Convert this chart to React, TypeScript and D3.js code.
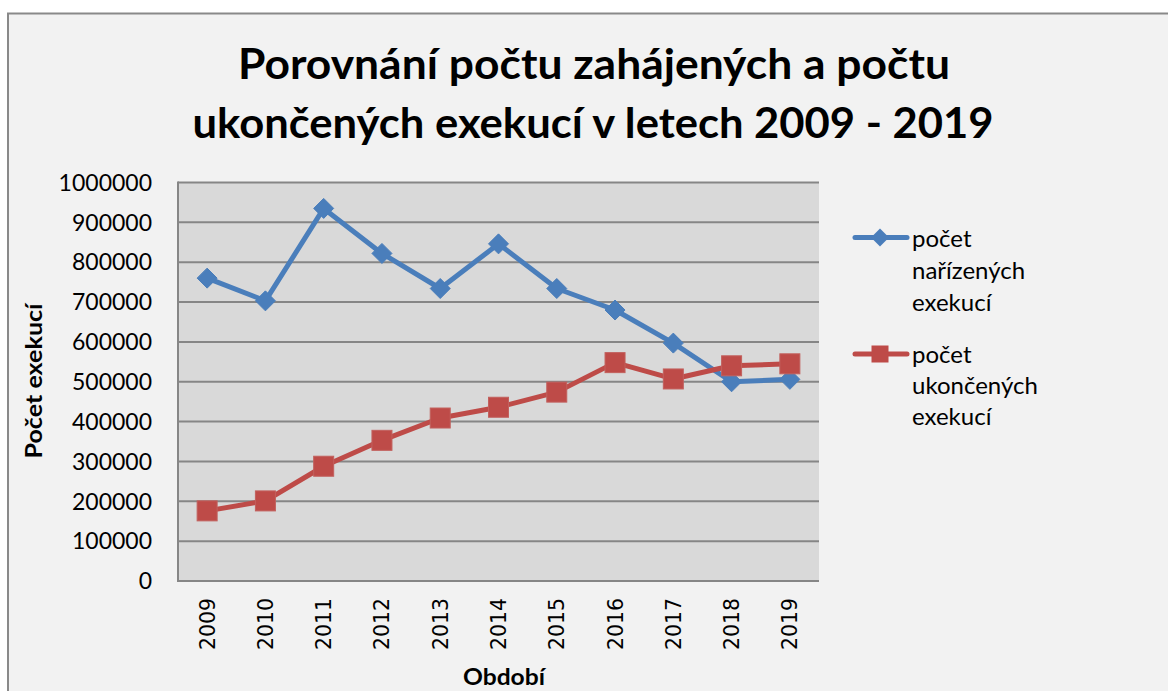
import React from "react";
import * as d3 from "d3";

const years = ["2009", "2010", "2011", "2012", "2013", "2014", "2015", "2016", "2017", "2018", "2019"];
const narizenych = [760000, 703000, 935000, 822000, 734000, 846000, 734000, 680000, 597000, 500000, 506000];
const ukoncenych = [176000, 201000, 288000, 353000, 409000, 436000, 474000, 548000, 507000, 540000, 545000];
const yTicks = [0, 100000, 200000, 300000, 400000, 500000, 600000, 700000, 800000, 900000, 1000000];
const titleLines = ["Porovnání počtu zahájených a počtu", "ukončených exekucí v letech 2009 - 2019"];
const legendNar = ["počet", "nařízených", "exekucí"];
const legendUk = ["počet", "ukončených", "exekucí"];
const yTitle = "Počet exekucí";
const xTitle = "Období";

const BLUE = "#4a7ebb";
const RED = "#be4b48";
const GRID = "#868686";

export default function App() {
  const left = 178, right = 819, top = 182.5, bottom = 581;
  const x = d3.scaleBand<string>().domain(years).range([left, right]).padding(0);
  const y = d3.scaleLinear().domain([0, 1000000]).range([bottom, top]);
  const cx = (yr: string) => (x(yr) as number) + x.bandwidth() / 2;
  const line = d3.line<number>().x((_, i) => cx(years[i])).y((v) => y(v));

  const diamond = (px: number, py: number, r: number) =>
    `M${px},${py - r}L${px + r},${py}L${px},${py + r}L${px - r},${py}Z`;

  const sans = "Lato, 'Open Sans', sans-serif";

  return (
    <svg width={1168} height={691} style={{ position: "absolute", left: 0, top: 0, background: "#ffffff" }}>
      <rect x={8} y={13.5} width={1200} height={720} fill="#f2f2f2" stroke="#898989" strokeWidth={2} />
      {/* title */}
      <text x={594} y={79} textAnchor="middle" fontFamily={sans} fontWeight="bold" fontSize={42} fill="#000" textLength={712} lengthAdjust="spacingAndGlyphs">{titleLines[0]}</text>
      <text x={593} y={138} textAnchor="middle" fontFamily={sans} fontWeight="bold" fontSize={42} fill="#000" textLength={801} lengthAdjust="spacingAndGlyphs">{titleLines[1]}</text>

      {/* plot area */}
      <rect x={left} y={top} width={right - left} height={bottom - top} fill="#d9d9d9" />
      {yTicks.map((t) => (
        <line key={t} x1={left} x2={right} y1={y(t)} y2={y(t)} stroke={GRID} strokeWidth={2} />
      ))}
      <line x1={left} x2={left} y1={top - 1} y2={bottom + 1} stroke={GRID} strokeWidth={2} />
      <line x1={left} x2={right} y1={bottom} y2={bottom} stroke={GRID} strokeWidth={2} />

      {/* y ticks */}
      {yTicks.map((t) => (
        <text key={t} x={152} y={y(t)} dy="0.36em" textAnchor="end" fontFamily={sans} fontSize={23} fill="#000">{String(t)}</text>
      ))}
      {/* x ticks */}
      {years.map((yr) => (
        <text key={yr} transform={`translate(${cx(yr) + 7.5},650) rotate(-90)`} textAnchor="start" fontFamily="'DejaVu Sans', sans-serif" fontSize={20.5} fill="#000" textLength={52} lengthAdjust="spacingAndGlyphs">{yr}</text>
      ))}

      {/* axis titles */}
      <text transform="translate(42,381) rotate(-90)" textAnchor="middle" fontFamily={sans} fontWeight="bold" fontSize={22} fill="#000" textLength={155} lengthAdjust="spacingAndGlyphs">{yTitle}</text>
      <text x={504} y={685} textAnchor="middle" fontFamily={sans} fontWeight="bold" fontSize={22} fill="#000" textLength={82} lengthAdjust="spacingAndGlyphs">{xTitle}</text>

      {/* series */}
      <path d={line(narizenych) || ""} fill="none" stroke={BLUE} strokeWidth={5} strokeLinejoin="round" />
      {narizenych.map((v, i) => (
        <path key={i} d={diamond(cx(years[i]), y(v), 10)} fill={BLUE} stroke={BLUE} strokeWidth={1} />
      ))}
      <path d={line(ukoncenych) || ""} fill="none" stroke={RED} strokeWidth={5} strokeLinejoin="round" />
      {ukoncenych.map((v, i) => (
        <rect key={i} x={cx(years[i]) - 10} y={y(v) - 10} width={20} height={20} fill={RED} stroke="#c2605d" strokeWidth={1} />
      ))}

      {/* legend */}
      <line x1={855} x2={907} y1={237.5} y2={237.5} stroke={BLUE} strokeWidth={5} strokeLinecap="round" />
      <path d={diamond(880, 237.5, 9)} fill={BLUE} />
      {legendNar.map((s, i) => (
        <text key={s + i} x={912} y={246.5 + i * 32} fontFamily={sans} fontSize={24} fill="#000">{s}</text>
      ))}
      <line x1={855} x2={907} y1={354} y2={354} stroke={RED} strokeWidth={5} strokeLinecap="round" />
      <rect x={871.5} y={345.5} width={17} height={17} fill={RED} />
      {legendUk.map((s, i) => (
        <text key={s + i} x={912} y={362.5 + i * 31} fontFamily={sans} fontSize={24} fill="#000">{s}</text>
      ))}
    </svg>
  );
}
